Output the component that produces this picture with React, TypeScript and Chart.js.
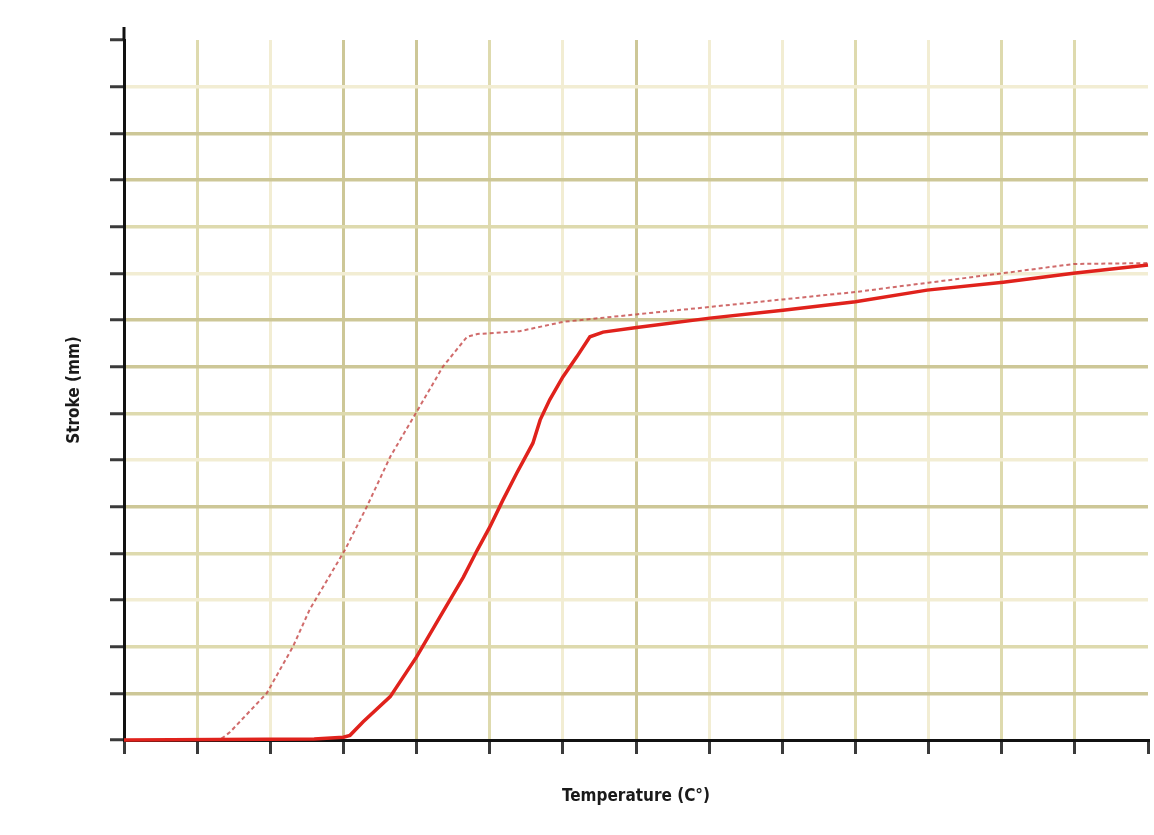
import React, { useEffect, useRef } from "react";
import { Chart, registerables } from "chart.js";

Chart.register(...registerables);

// Temperature axis positions (grid units) and stroke values for each curve
const solidTemp = [0, 2.6, 3.0, 3.09, 3.27, 3.64, 4.0, 4.32, 4.64, 4.83, 5.0, 5.18, 5.37, 5.59, 5.69, 5.82, 6.0, 6.19, 6.37, 6.55, 7.01, 8.01, 9.01, 10.0, 10.98, 12.02, 12.98, 14];
const solidStroke = [0, 0.02, 0.06, 0.1, 0.39, 0.93, 1.78, 2.64, 3.49, 4.07, 4.56, 5.14, 5.72, 6.36, 6.86, 7.29, 7.78, 8.21, 8.64, 8.74, 8.84, 9.04, 9.21, 9.39, 9.64, 9.81, 10.0, 10.18];

const dashedTemp = [0, 1.31, 1.45, 1.95, 2.31, 2.54, 3.02, 3.32, 3.64, 4.0, 4.36, 4.69, 4.83, 5.41, 6.0, 7.0, 8.01, 9.0, 10.0, 11.0, 12.0, 12.98, 14];
const dashedStroke = [0, 0, 0.17, 1.0, 2.0, 2.8, 4.07, 5.0, 6.07, 7.03, 8.0, 8.64, 8.7, 8.76, 8.96, 9.12, 9.28, 9.44, 9.6, 9.8, 10.0, 10.2, 10.22];

const xMin = 0;
const xMax = 14;
const yMin = 0;
const yMax = 15;

const xTitle = "Temperature (C°)";
const yTitle = "Stroke (mm)";

// grid shading (style)
const OLIVE = "#cdc797";
const LIGHT = "#dedaae";
const PALE = "#f2edd3";
const hShade = ["", OLIVE, LIGHT, PALE, LIGHT, OLIVE, PALE, LIGHT, OLIVE, OLIVE, PALE, LIGHT, OLIVE, OLIVE, PALE, "rgba(0,0,0,0)"];
const vShade = ["", LIGHT, PALE, OLIVE, OLIVE, LIGHT, PALE, OLIVE, PALE, PALE, LIGHT, PALE, LIGHT, LIGHT, "rgba(0,0,0,0)"];

const axisExtend = {
  id: "axisExtend",
  afterDraw(chart: any) {
    const { ctx, chartArea } = chart;
    ctx.save();
    ctx.strokeStyle = "#111";
    ctx.lineWidth = 3;
    ctx.beginPath();
    ctx.moveTo(chartArea.left, chartArea.top - 13);
    ctx.lineTo(chartArea.left, chartArea.top);
    ctx.stroke();
    ctx.restore();
  },
};

export default function App() {
  const ref = useRef<HTMLCanvasElement | null>(null);

  useEffect(() => {
    document.body.style.margin = "0";
    const canvas = ref.current;
    if (!canvas) return;
    const solidData = solidTemp.map((x, i) => ({ x, y: solidStroke[i] }));
    const dashedData = dashedTemp.map((x, i) => ({ x, y: dashedStroke[i] }));
    const titleFont = {
      family: "'Liberation Sans Narrow', 'DejaVu Sans Condensed', 'Liberation Sans', sans-serif",
      size: 17,
      weight: "bold" as const,
    };
    const chart = new Chart(canvas, {
      type: "line",
      data: {
        datasets: [
          {
            label: "solid",
            data: solidData,
            borderColor: "#e0221c",
            borderWidth: 3.5,
            pointRadius: 0,
            tension: 0,
            clip: false as any,
          },
          {
            label: "dashed",
            data: dashedData,
            borderColor: "rgba(196, 70, 70, 0.8)",
            borderWidth: 2,
            borderDash: [4, 3],
            pointRadius: 0,
            tension: 0,
            clip: false as any,
          },
        ],
      },
      options: {
        responsive: false,
        maintainAspectRatio: false,
        animation: false,
        devicePixelRatio: 1,
        layout: { padding: { top: 40, right: 6, left: 0, bottom: 0 } },
        plugins: {
          legend: { display: false },
          tooltip: { enabled: false },
        },
        scales: {
          x: {
            type: "linear",
            position: "bottom",
            min: xMin,
            max: xMax,
            ticks: { stepSize: 1, display: false },
            grid: {
              color: (c: any) => vShade[c.index] || "rgba(0,0,0,0)",
              lineWidth: 3,
              drawTicks: true,
              tickLength: 14,
              tickColor: "#3a3a3a",
              tickWidth: 3,
            },
            border: { color: "#111", width: 3 },
            title: {
              display: true,
              text: xTitle,
              color: "#1a1a1a",
              font: titleFont,
              padding: { top: 0, bottom: 28 },
            },
            afterFit: (s: any) => {
              s.height = 95;
            },
          },
          y: {
            type: "linear",
            position: "left",
            min: yMin,
            max: yMax,
            ticks: { stepSize: 1, display: false },
            grid: {
              color: (c: any) => hShade[c.index] || "rgba(0,0,0,0)",
              lineWidth: 3.5,
              drawTicks: true,
              tickLength: 14,
              tickColor: "#3a3a3a",
              tickWidth: 3,
            },
            border: { color: "#111", width: 3 },
            title: {
              display: true,
              text: yTitle,
              color: "#1a1a1a",
              font: titleFont,
              padding: { top: 64, bottom: 0 },
            },
            afterFit: (s: any) => {
              s.width = 124;
            },
          },
        },
      },
      plugins: [axisExtend],
    });
    return () => chart.destroy();
  }, []);

  return (
    <div style={{ width: 1154, height: 835, background: "#fff" }}>
      <canvas ref={ref} width={1154} height={835} />
    </div>
  );
}
